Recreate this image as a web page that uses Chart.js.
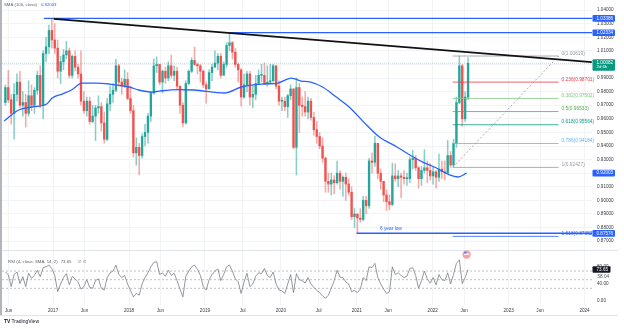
<!DOCTYPE html>
<html>
<head>
<meta charset="utf-8">
<script src="https://cdn.jsdelivr.net/npm/chart.js@4.4.1/dist/chart.umd.min.js"></script>
<style>
  html, body { margin: 0; padding: 0; background: #fff; }
  #wrap { position: relative; width: 624px; height: 329px; overflow: hidden; }
  canvas { position: absolute; left: 0; top: 0; }
</style>
</head>
<body>
<div id="wrap"><canvas id="usdchf" width="624" height="329"></canvas></div>
<script>
// USD/CHF, two-week candles, SMA 100 and RSI 4
const candleStart = '2016-05-09';
const candleDays = 14;
const firstOpen = 0.9720;

const highs = [0.9850,0.9956,0.9780,0.9860,0.9930,0.9950,0.9800,0.9780,0.9880,0.9850,
  0.9830,0.9950,0.9990,1.0100,1.0200,1.0290,1.0339,1.0300,1.0180,1.0060,
  1.0110,1.0170,1.0120,1.0070,1.0100,1.0000,1.0100,0.9800,0.9760,0.9760,
  0.9700,0.9700,0.9770,0.9720,0.9650,0.9750,0.9840,0.9860,1.0037,1.0000,
  0.9900,0.9960,0.9940,0.9840,0.9700,0.9460,0.9420,0.9490,0.9560,0.9640,
  0.9800,1.0040,1.0056,1.0000,0.9960,0.9980,1.0020,1.0068,0.9990,0.9980,
  0.9840,0.9720,0.9880,0.9960,1.0050,1.0128,1.0010,1.0000,0.9960,0.9870,
  0.9960,1.0000,1.0100,1.0080,1.0080,1.0020,1.0160,1.0237,1.0170,1.0120,
  1.0010,0.9970,0.9930,0.9950,0.9950,0.9840,0.9920,0.9960,1.0000,1.0010,
  0.9990,1.0000,1.0000,0.9990,0.9880,0.9760,0.9760,0.9780,0.9850,0.9820,
  0.9902,0.9860,0.9760,0.9800,0.9760,0.9750,0.9650,0.9580,0.9500,0.9460,
  0.9320,0.9200,0.9200,0.9180,0.9290,0.9220,0.9180,0.9200,0.9160,0.9100,
  0.8940,0.8900,0.8940,0.9030,0.9030,0.9310,0.9350,0.9473,0.9420,0.9230,
  0.9140,0.9080,0.9040,0.9274,0.9270,0.9220,0.9200,0.9220,0.9200,0.9320,
  0.9370,0.9330,0.9250,0.9250,0.9373,0.9290,0.9270,0.9250,0.9220,0.9340,
  0.9290,0.9290,0.9440,0.9360,0.9450,0.9760,1.0062,1.0000,0.9800,1.0050];

const lows = [0.9700,0.9720,0.9560,0.9450,0.9730,0.9680,0.9620,0.9540,0.9620,0.9660,
  0.9640,0.9780,0.9680,0.9600,1.0020,1.0080,1.0120,1.0080,0.9900,0.9860,
  0.9960,1.0040,0.9900,0.9900,0.9950,0.9900,0.9700,0.9640,0.9620,0.9560,
  0.9570,0.9440,0.9640,0.9510,0.9420,0.9440,0.9660,0.9720,0.9800,0.9840,
  0.9780,0.9830,0.9740,0.9640,0.9320,0.9260,0.9187,0.9310,0.9400,0.9420,
  0.9580,0.9780,0.9940,0.9850,0.9790,0.9860,0.9880,0.9900,0.9880,0.9820,
  0.9640,0.9542,0.9560,0.9850,0.9940,0.9990,0.9930,0.9870,0.9830,0.9716,
  0.9820,0.9880,0.9980,0.9960,0.9900,0.9920,0.9980,1.0100,1.0040,0.9980,
  0.9870,0.9693,0.9750,0.9800,0.9700,0.9680,0.9740,0.9850,0.9870,0.9850,
  0.9840,0.9860,0.9870,0.9820,0.9700,0.9660,0.9660,0.9610,0.9740,0.9380,
  0.9187,0.9500,0.9620,0.9620,0.9600,0.9590,0.9480,0.9420,0.9380,0.9280,
  0.9060,0.9060,0.9040,0.9050,0.9120,0.9080,0.9030,0.9000,0.9040,0.8860,
  0.8800,0.8758,0.8840,0.8850,0.8900,0.8940,0.9200,0.9250,0.9160,0.9080,
  0.8990,0.8925,0.8930,0.8960,0.9140,0.9100,0.9020,0.9120,0.9110,0.9130,
  0.9230,0.9220,0.9090,0.9110,0.9200,0.9130,0.9150,0.9120,0.9090,0.9140,
  0.9160,0.9150,0.9200,0.9243,0.9250,0.9390,0.9710,0.9545,0.9580,0.9740];

const closes = [0.9830,0.9740,0.9640,0.9780,0.9870,0.9700,0.9720,0.9640,0.9770,0.9700,
  0.9810,0.9920,0.9700,1.0080,1.0130,1.0250,1.0180,1.0120,0.9950,1.0020,
  1.0070,1.0100,0.9920,1.0060,0.9980,0.9930,0.9730,0.9660,0.9730,0.9580,
  0.9620,0.9680,0.9690,0.9570,0.9450,0.9710,0.9780,0.9810,0.9990,0.9870,
  0.9840,0.9890,0.9750,0.9660,0.9350,0.9390,0.9330,0.9470,0.9500,0.9620,
  0.9790,0.9990,1.0000,0.9870,0.9950,0.9900,0.9990,0.9920,0.9950,0.9840,
  0.9700,0.9570,0.9860,0.9950,1.0030,1.0000,0.9990,0.9950,0.9850,0.9820,
  0.9940,0.9980,1.0010,1.0060,0.9920,1.0000,1.0140,1.0160,1.0090,1.0000,
  0.9960,0.9760,0.9850,0.9930,0.9760,0.9780,0.9860,0.9920,0.9920,0.9860,
  0.9870,0.9880,0.9990,0.9840,0.9730,0.9730,0.9690,0.9770,0.9820,0.9390,
  0.9830,0.9700,0.9690,0.9650,0.9730,0.9610,0.9520,0.9470,0.9400,0.9310,
  0.9140,0.9120,0.9150,0.9130,0.9200,0.9140,0.9170,0.9120,0.9060,0.8880,
  0.8900,0.8870,0.8860,0.9000,0.8960,0.9290,0.9280,0.9420,0.9200,0.9140,
  0.9040,0.8990,0.8970,0.9180,0.9160,0.9180,0.9170,0.9160,0.9160,0.9300,
  0.9310,0.9240,0.9160,0.9220,0.9240,0.9220,0.9180,0.9210,0.9170,0.9230,
  0.9210,0.9200,0.9330,0.9260,0.9420,0.9720,0.9990,0.9600,0.9760,1.0008];

const rsiValues = [68,61,34,62,68,41,57,34,65,53,60,72,57,
  78,80,84,76, 60,22,40,55, 64,38,58,52,45,28,34,50,
  32,30,48,52,30, 26,55,66,70,84, 62,55,60,40,25,10,18,
  14,40,55,66,80,90,92, 62,66,58,72,60,65,48,28, 10,
  58,70,80,84,74, 60,34,26,50,62, 70,75,48,62,80,84,
  70,52,45,18, 45,65,34,40,58,66,64,76,60,55,
  68,40,26,24,18,40, 62,20,64, 50,48,42,55,40,
  32,25,20,12,7, 14,30,48,72,56, 55,45,40,22,
  25,20,28,55,48,80,78,88, 55,40,28,18,22, 80,
  62,66,60,55,58,76, 78,60,30,48,
  70,52,42,55,38,62,50,48,66,40,62, 88,96,41,55,73.65];

const smaDates = ['2016-05-10','2016-07-19','2016-09-20','2016-12-01','2016-12-28',
  '2017-02-14','2017-03-30','2017-05-20','2017-07-27','2017-09-27',
  '2018-01-01','2018-02-17','2018-04-23','2018-05-26','2018-08-22',
  '2018-11-10','2019-04-05','2019-06-25','2019-10-12','2019-12-17',
  '2020-02-21','2020-04-08','2020-05-19','2020-07-20','2020-09-24',
  '2020-11-25','2021-02-17','2021-04-20','2021-07-13','2021-09-13',
  '2021-11-14','2022-01-19','2022-03-23','2022-05-02','2022-06-13'];
const smaValues = [0.9584,0.9665,0.9687,0.9709,0.9753,
  0.9782,0.9812,0.9863,0.9863,0.9856,
  0.9834,0.9812,0.9797,0.9804,0.9815,
  0.9812,0.9790,0.9834,0.9856,0.9863,
  0.9900,0.9878,0.9871,0.9834,0.9760,
  0.9687,0.9554,0.9466,0.9393,0.9334,
  0.9282,0.9238,0.9187,0.9172,0.92003];

const tickDates = ['2016-06-01','2017-01-01','2017-06-01','2018-01-01','2018-06-01','2019-01-01',
  '2019-07-01','2020-01-01','2020-07-01','2021-01-01','2021-06-01','2022-01-01',
  '2022-06-01','2023-01-01','2023-06-01','2024-01-01'];
const tickLabels = ['Jun','2017','Jun','2018','Jun','2019','Jul','2020','Jul','2021','Jun','2022',
  'Jun','2023','Jun','2024'];
const priceTicks = [0.87,0.88,0.89,0.90,0.91,0.92,0.93,0.94,0.95,0.96,
  0.97,0.98,0.99,1.00,1.01,1.02,1.03,1.04];
const rsiTicks = [0, 40, 80];
const rsiBands = [70, 50, 30];

// fibonacci retracement drawn over the 2022 rally
const fibRatios = ['0','0.236','0.382','0.5','0.618','0.786','1','1.618'];
const fibPrices = [1.00619,0.98701,0.97502,0.96533,0.95564,0.94184,0.92427,0.87352];
const fibColors = ['#9598a1','#f23645','#81c784','#4caf50','#089981','#64b5f6','#9598a1','#2962ff'];
const fibFrom = '2022-04-07';
const fibTo = '2023-08-29';

// horizontal levels: 2016 high, 2019 high, 6 year low
const levelPrices = [1.03386, 1.02334, 0.87576];
const levelFrom = ['2016-11-17', '2019-04-27', '2020-12-31'];
const lowNote = '6 year low';
const lowNoteDate = '2021-06-14';

const trendDates = ['2017-01-04', '2024-02-05'];
const trendPrices = [1.0335, 1.0017];

const lastPrice = 1.00082;
const lastCountdown = '2d 6h';
const smaLast = 0.92003;
const rsiLast = 73.65;
const rsiAvgLast = 58.04;
const eventDate = '2022-06-13';

const X_MIN = 2016.327, X_MAX = 2024.098;
const UP = '#26a69a', DOWN = '#ef5350';
const FONT = '"Liberation Sans", Arial, sans-serif';

function yearOfMs(ms) {
  const y = new Date(ms).getUTCFullYear();
  const a = Date.UTC(y, 0, 1), b = Date.UTC(y + 1, 0, 1);
  return y + (ms - a) / (b - a);
}
function yearOf(s) { return yearOfMs(Date.parse(s + 'T00:00:00Z')); }

const t0 = Date.parse(candleStart + 'T00:00:00Z');
const times = closes.map((_, i) => yearOfMs(t0 + (i * candleDays + candleDays / 2) * 864e5));
const opens = closes.map((_, i) => i === 0 ? firstOpen : closes[i - 1]);
const isUp = i => closes[i] >= opens[i];

function seg(x1, y1, x2, y2) { return [{ x: x1, y: y1 }, { x: x2, y: y2 }]; }
function flatLine(data, color, width, dash, axis, order) {
  return { type: 'line', data, borderColor: color, borderWidth: width, borderDash: dash || [],
    pointRadius: 0, yAxisID: axis || 'y', order: order || 2, tension: 0 };
}

const datasets = [
  { type: 'bar', data: times.map((t, i) => ({ x: t, y: [lows[i], highs[i]] })),
    backgroundColor: c => isUp(c.dataIndex) ? 'rgba(38,166,154,0.55)' : 'rgba(239,83,80,0.5)',
    barThickness: 0.9, grouped: false, yAxisID: 'y', order: 10 },
  { type: 'bar', data: times.map((t, i) => ({ x: t, y: [opens[i], closes[i]] })),
    backgroundColor: c => isUp(c.dataIndex) ? UP : DOWN,
    barThickness: 1.7, minBarLength: 1, grouped: false, yAxisID: 'y', order: 9 },
  { type: 'line', data: smaDates.map((d, i) => ({ x: yearOf(d), y: smaValues[i] })),
    borderColor: '#2962ff', borderWidth: 1.3, pointRadius: 0, cubicInterpolationMode: 'monotone',
    yAxisID: 'y', order: 5 },
  flatLine(seg(X_MIN, lastPrice, X_MAX, lastPrice), 'rgba(8,153,129,0.35)', 0.8, [1, 1], 'y', 6),
  flatLine(seg(yearOf(trendDates[0]), trendPrices[0], yearOf(trendDates[1]), trendPrices[1]), '#111', 1.6),
  flatLine(seg(yearOf(fibFrom), fibPrices[6], yearOf(fibTo), fibPrices[0]), '#9598a1', 0.8, [2, 2]),
  { type: 'line', data: times.map((t, i) => ({ x: t, y: rsiValues[i] })),
    borderColor: '#7b7d85', borderWidth: 0.8, pointRadius: 0, yAxisID: 'yr', order: 3 }
];
levelPrices.forEach((p, i) => {
  datasets.push(flatLine(seg(yearOf(levelFrom[i]), p, X_MAX, p), '#2962ff', i === 2 ? 1.5 : 1.2));
});
fibPrices.forEach((p, i) => {
  datasets.push(flatLine(seg(yearOf(fibFrom), p, yearOf(fibTo), p), fibColors[i], 0.8));
});
rsiBands.forEach(v => {
  datasets.push(flatLine(seg(X_MIN, v, X_MAX, v), '#a3a6af', 0.7, [2, 2], 'yr', 4));
});

function txt(ctx, s, x, y, color, size, align, weight) {
  ctx.font = (weight || '') + ' ' + size + 'px ' + FONT;
  ctx.fillStyle = color;
  ctx.textAlign = align || 'left';
  ctx.textBaseline = 'middle';
  ctx.fillText(s, x, y);
  return ctx.measureText(s).width;
}
function tag(ctx, y, bg, label, sub) {
  const h = sub ? 11.5 : 6.6;
  const top = sub ? y - 4 : y - h / 2;
  ctx.fillStyle = bg;
  ctx.beginPath();
  ctx.roundRect(592.5, top, 22.5, h, 1);
  ctx.fill();
  txt(ctx, label, 596.5, sub ? y - 0.8 : y, '#fff', 4.6);
  if (sub) txt(ctx, sub, 596.5, y + 3.8, '#fff', 4.3);
}

const overlay = {
  id: 'overlay',
  beforeDraw(chart) {
    const ctx = chart.ctx;
    ctx.save();
    ctx.fillStyle = '#fff';
    ctx.fillRect(0, 0, 624, 329);
    ctx.restore();
  },
  afterDraw(chart) {
    const { ctx, scales: { x, y, yr } } = chart;
    ctx.save();
    // frame and pane separator
    ctx.fillStyle = '#b2b5be';
    ctx.fillRect(0, 0, 2, 316);
    ctx.strokeStyle = '#e0e3eb';
    ctx.lineWidth = 1;
    ctx.beginPath();
    ctx.moveTo(0, 315.5); ctx.lineTo(618, 315.5);
    ctx.moveTo(2, Math.round(yr.top) + 0.5); ctx.lineTo(618, Math.round(yr.top) + 0.5);
    ctx.stroke();

    // legends
    let w = txt(ctx, 'SMA (100, close)', 4, 5, '#5d606b', 4.3);
    txt(ctx, smaLast.toFixed(5), 4 + w + 4, 5, '#2962ff', 4.3);
    w = txt(ctx, 'RSI (4, close, SMA, 14, 2)', 8, 262, '#5d606b', 4.3);
    txt(ctx, rsiLast.toFixed(2), 8 + w + 3, 262, '#5d606b', 4.3);
    txt(ctx, '\u2205  \u2205', 78, 262, '#5d606b', 4.3);

    // fib labels
    const fx = x.getPixelForValue(yearOf(fibTo)) + 3;
    fibPrices.forEach((p, i) => {
      txt(ctx, fibRatios[i] + '(' + p.toFixed(5) + ')', fx, y.getPixelForValue(p) - 2.6, fibColors[i], 4.8);
    });
    txt(ctx, lowNote, x.getPixelForValue(yearOf(lowNoteDate)), y.getPixelForValue(levelPrices[2]) - 5,
      '#2962ff', 4.8, 'center');

    // price scale tags
    tag(ctx, y.getPixelForValue(levelPrices[0]), '#2962ff', levelPrices[0].toFixed(5));
    tag(ctx, y.getPixelForValue(levelPrices[1]), '#2962ff', levelPrices[1].toFixed(5));
    tag(ctx, y.getPixelForValue(lastPrice), '#089981', lastPrice.toFixed(5), lastCountdown);
    tag(ctx, y.getPixelForValue(smaLast), '#2962ff', smaLast.toFixed(5));
    tag(ctx, y.getPixelForValue(levelPrices[2]), '#2962ff', levelPrices[2].toFixed(5));

    // rsi scale
    const ry = yr.getPixelForValue(rsiLast);
    ctx.fillStyle = '#131722';
    ctx.beginPath(); ctx.roundRect(592.5, ry - 3.3, 18, 6.6, 1); ctx.fill();
    txt(ctx, rsiLast.toFixed(2), 596.5, ry, '#fff', 4.6);
    txt(ctx, rsiAvgLast.toFixed(2), 597.5, yr.getPixelForValue(rsiAvgLast), '#50535e', 4.6);

    // economic event marker
    const ex = x.getPixelForValue(yearOf(eventDate));
    ctx.fillStyle = '#f7a1a7';
    ctx.beginPath(); ctx.arc(ex, 254.5, 4.2, 0, Math.PI * 2); ctx.fill();
    ctx.fillStyle = '#fff';
    ctx.fillRect(ex - 2.6, 253.6, 5.2, 1.2);
    ctx.fillStyle = '#5b7bd6';
    ctx.fillRect(ex - 2.6, 251.8, 2.4, 1.6);

    // brand
    txt(ctx, 'TV', 4, 322, '#131722', 5, 'left', 'bold');
    txt(ctx, 'TradingView', 11.5, 322, '#131722', 5);
    ctx.restore();
  }
};

Chart.defaults.font.family = FONT;

// scales keep no label padding so the panes fill the canvas edge to edge
function fitY(s) { s.width = 32; s.paddingTop = 0; s.paddingBottom = 0; }

new Chart(document.getElementById('usdchf'), {
  type: 'bar',
  data: { datasets },
  options: {
    responsive: false,
    animation: false,
    devicePixelRatio: 1,
    layout: { padding: { left: 2, top: 0, right: 0, bottom: 13 } },
    plugins: { legend: { display: false }, tooltip: { enabled: false } },
    scales: {
      x: {
        type: 'linear', min: X_MIN, max: X_MAX, offset: false,
        grid: { color: '#f2f3f6', drawTicks: false, offset: false },
        border: { display: false },
        ticks: { autoSkip: false, maxRotation: 0, padding: 3, color: '#363a45', font: { size: 4.6 },
          callback: (v, i) => tickLabels[i] },
        afterBuildTicks: s => { s.ticks = tickDates.map(d => ({ value: yearOf(d) })); },
        afterFit: s => { s.height = 11; s.paddingLeft = 0; s.paddingRight = 0; }
      },
      y: {
        position: 'right', stack: 'panes', stackWeight: 250,
        min: 0.8635, max: 1.0474,
        grid: { color: '#f2f3f6', drawTicks: false },
        border: { display: false },
        ticks: { autoSkip: false, padding: 5, color: '#363a45', font: { size: 4.6 },
          callback: v => v.toFixed(5) },
        afterBuildTicks: s => { s.ticks = priceTicks.map(v => ({ value: v })); },
        afterFit: fitY
      },
      yr: {
        position: 'right', stack: 'panes', stackWeight: 55,
        min: -8.8, max: 119,
        grid: { display: false, drawTicks: false },
        border: { display: false },
        ticks: { autoSkip: false, padding: 5, color: '#363a45', font: { size: 4.6 },
          callback: v => v.toFixed(2) },
        afterBuildTicks: s => { s.ticks = rsiTicks.map(v => ({ value: v })); },
        afterFit: fitY
      }
    }
  },
  plugins: [overlay]
});
</script>
</body>
</html>
